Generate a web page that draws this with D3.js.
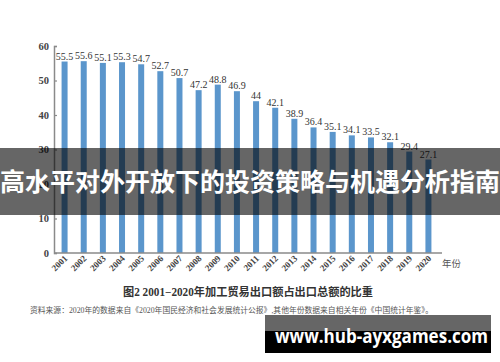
<!DOCTYPE html>
<html><head><meta charset="utf-8">
<script src="https://cdn.jsdelivr.net/npm/d3@7/dist/d3.min.js"></script>
<style>
html,body{margin:0;padding:0;background:#fff;}
svg{display:block;}
</style></head>
<body>
<svg id="c" width="500" height="362"></svg>
<script>
const years = ["2001","2002","2003","2004","2005","2006","2007","2008","2009","2010","2011","2012","2013","2014","2015","2016","2017","2018","2019","2020"];
const shares = [55.5,55.6,55.1,55.3,54.7,52.7,50.7,47.2,48.8,46.9,44,42.1,38.9,36.4,35.1,34.1,33.5,32.1,29.4,27.1];
const valueLabels = ["55.5","55.6","55.1","55.3","54.7","52.7","50.7","47.2","48.8","46.9","44","42.1","38.9","36.4","35.1","34.1","33.5","32.1","29.4","27.1"];
const yTicks = [0,10,20,30,40,50,60];
const xUnit = "年份";
const title = "图2  2001−2020年加工贸易出口额占出口总额的比重";
const note = "资料来源：2020年的数据来自《2020年国民经济和社会发展统计公报》,其他年份数据来自相关年份《中国统计年鉴》。";
const banner = "高水平对外开放下的投资策略与机遇分析指南";
const watermark = "www.hub-ayxgames.com";

const svg = d3.select("#c");
const serif = "'Liberation Serif','Times New Roman','Noto Sans CJK SC',serif";
const cjk = "'Noto Sans CJK SC','Noto Sans',sans-serif";

const x = d3.scalePoint().domain(years).range([55,438]).padding(0.5);
const y = d3.scaleLinear().domain([0,60]).range([253,46]);

// y axis
const ya = svg.append("g").attr("transform","translate(54,0)")
  .call(d3.axisLeft(y).tickValues(yTicks).tickSize(-3).tickPadding(5).tickFormat(d3.format("d")));
ya.select(".domain").attr("stroke","#8a8a8a").attr("stroke-width",1.5);
ya.selectAll(".tick line").attr("stroke","#8a8a8a").attr("stroke-width",1.2);
ya.selectAll(".tick text").attr("font-family",serif).attr("font-size",10.5).attr("font-weight","bold").attr("fill","#444");

// bars
svg.append("g").selectAll("rect").data(years).join("rect")
  .attr("x",(d)=>x(d)-3).attr("width",6)
  .attr("y",(d,i)=>y(shares[i])).attr("height",(d,i)=>y(0)-y(shares[i]))
  .attr("fill","#5b96cc");

// value labels
svg.append("g").selectAll("text").data(years).join("text")
  .attr("x",(d)=>x(d)).attr("y",(d,i)=>y(shares[i])-2)
  .attr("text-anchor","middle").attr("font-family",serif).attr("font-size",10)
  .attr("fill","#333").text((d,i)=>valueLabels[i]);

// x axis
svg.append("line").attr("x1",54).attr("x2",442).attr("y1",253).attr("y2",253)
  .attr("stroke","#8a8a8a").attr("stroke-width",1.5);
const xa = svg.append("g").attr("transform","translate(0,253)")
  .call(d3.axisBottom(x).tickSize(0).tickPadding(0));
xa.select(".domain").remove();
xa.selectAll(".tick text")
  .attr("font-family",serif).attr("font-size",9).attr("font-weight","bold").attr("fill","#444")
  .attr("text-anchor","end").attr("dy",0)
  .attr("transform","translate(3,6) rotate(-45)");
svg.append("text").attr("x",442).attr("y",267).attr("font-family",cjk).attr("font-size",9.5)
  .attr("fill","#555").text(xUnit);

// title and note
svg.append("text").attr("x",123).attr("y",296).attr("font-family",serif).attr("font-size",11.5)
  .attr("font-weight","bold").attr("fill","#333").attr("textLength",250).attr("lengthAdjust","spacingAndGlyphs").text(title);
svg.append("text").attr("x",30).attr("y",313).attr("font-family",serif).attr("font-size",7.5)
  .attr("fill","#555").attr("textLength",403).attr("lengthAdjust","spacingAndGlyphs").text(note);

// banner overlay
svg.append("rect").attr("x",0).attr("y",148).attr("width",500).attr("height",67).attr("fill","rgba(0,0,0,0.6)");
svg.append("text").attr("x",0).attr("y",191).attr("font-family",cjk).attr("font-size",25)
  .attr("font-weight","bold").attr("fill","#fff").attr("textLength",500).attr("lengthAdjust","spacingAndGlyphs").text(banner);

// watermark
svg.append("rect").attr("x",265).attr("y",315).attr("width",226).attr("height",16).attr("fill","#666");
svg.append("rect").attr("x",265).attr("y",331).attr("width",226).attr("height",22).attr("fill","#000");
svg.append("text").attr("x",275).attr("y",343).attr("font-family","'Open Sans','Noto Sans',sans-serif").attr("font-size",20)
  .attr("font-weight","bold").attr("fill","#fff").attr("textLength",213).attr("lengthAdjust","spacingAndGlyphs").text(watermark);
</script>
</body></html>
